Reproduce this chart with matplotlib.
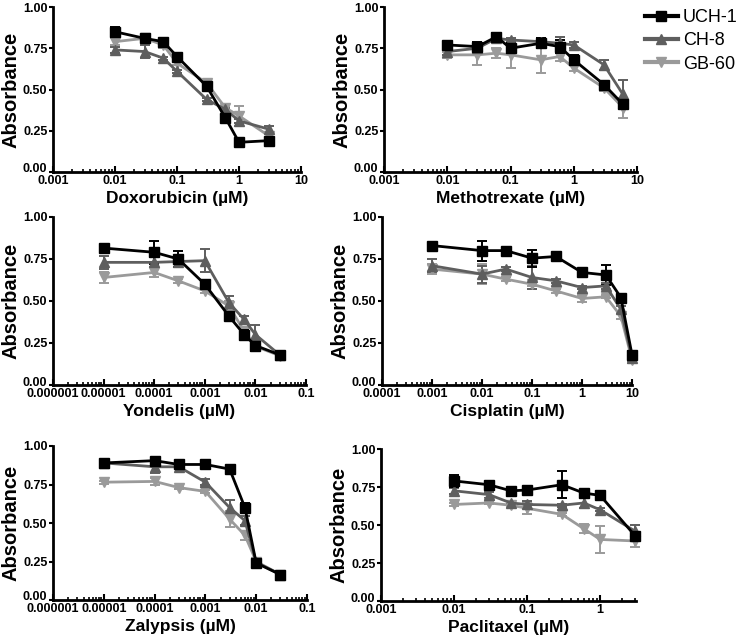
import matplotlib
matplotlib.use('Agg')

import numpy as np
import matplotlib.pyplot as plt
import matplotlib.transforms as mtransforms
from matplotlib.ticker import FixedLocator, LogLocator, NullFormatter
from matplotlib.lines import Line2D

plt.rcParams['font.family'] = ['Liberation Sans', 'DejaVu Sans']

lines_names = ['UCH-1', 'CH-8', 'GB-60']
colors = ['#000000', '#5e5e5e', '#9a9a9a']
markers = ['s', '^', 'v']

# Doxorubicin
dox_x = [0.01, 0.03, 0.06, 0.1, 0.3, 0.6, 1, 3]
dox_y = [[0.85, 0.81, 0.79, 0.70, 0.52, 0.33, 0.18, 0.19],
         [0.74, 0.73, 0.69, 0.61, 0.44, 0.38, 0.31, 0.26],
         [0.79, 0.81, 0.77, 0.66, 0.54, 0.39, 0.34, 0.22]]
dox_err = [[0.03, 0.01, 0.01, 0.01, 0.01, 0.01, 0.02, 0.01],
           [0.02, 0.04, 0.01, 0.01, 0.01, 0.01, 0.01, 0.02],
           [0.02, 0.02, 0.02, 0.01, 0.02, 0.01, 0.06, 0.02]]

# Methotrexate
mtx_x = [0.01, 0.03, 0.06, 0.1, 0.3, 0.6, 1, 3, 6]
mtx_y = [[0.77, 0.76, 0.82, 0.75, 0.78, 0.76, 0.68, 0.53, 0.41],
         [0.73, 0.75, 0.81, 0.80, 0.79, 0.78, 0.77, 0.65, 0.47],
         [0.71, 0.71, 0.72, 0.71, 0.68, 0.70, 0.63, 0.51, 0.39]]
mtx_err = [[0.02, 0.03, 0.02, 0.03, 0.03, 0.04, 0.03, 0.02, 0.02],
           [0.02, 0.02, 0.02, 0.01, 0.02, 0.04, 0.02, 0.03, 0.09],
           [0.02, 0.06, 0.03, 0.08, 0.08, 0.03, 0.02, 0.02, 0.06]]

# Yondelis
yon_x = [1e-5, 1e-4, 3e-4, 1e-3, 3e-3, 6e-3, 1e-2, 3e-2]
yon_y = [[0.815, 0.79, 0.75, 0.60, 0.41, 0.30, 0.235, 0.18],
         [0.73, 0.73, 0.735, 0.74, 0.49, 0.39, 0.30, 0.18],
         [0.64, 0.67, 0.62, 0.56, 0.47, 0.32, 0.23, 0.175]]
yon_err = [[0.01, 0.07, 0.05, 0.01, 0.02, 0.03, 0.03, 0.01],
           [0.04, 0.03, 0.03, 0.07, 0.04, 0.02, 0.06, 0.01],
           [0.03, 0.03, 0.01, 0.01, 0.03, 0.02, 0.03, 0.01]]

# Cisplatin
cis_x = [0.001, 0.01, 0.03, 0.1, 0.3, 1, 3, 6, 10]
cis_y = [[0.83, 0.80, 0.80, 0.755, 0.765, 0.67, 0.655, 0.52, 0.18],
         [0.71, 0.66, 0.69, 0.64, 0.62, 0.58, 0.59, 0.45, 0.16],
         [0.69, 0.66, 0.63, 0.60, 0.56, 0.515, 0.525, 0.41, 0.15]]
cis_err = [[0.01, 0.06, 0.01, 0.05, 0.02, 0.02, 0.06, 0.01, 0.02],
           [0.04, 0.05, 0.01, 0.07, 0.01, 0.01, 0.02, 0.02, 0.02],
           [0.03, 0.06, 0.01, 0.01, 0.01, 0.02, 0.01, 0.02, 0.02]]

# Zalypsis
zal_x = [1e-5, 1e-4, 3e-4, 1e-3, 3e-3, 6e-3, 1e-2, 3e-2]
zal_y = [[0.89, 0.905, 0.88, 0.88, 0.85, 0.60, 0.24, 0.165],
         [0.89, 0.865, 0.865, 0.765, 0.60, 0.515, 0.245, 0.165],
         [0.765, 0.77, 0.73, 0.705, 0.525, 0.42, 0.25, 0.165]]
zal_err = [[0.01, 0.02, 0.01, 0.02, 0.02, 0.03, 0.02, 0.01],
           [0.01, 0.04, 0.01, 0.02, 0.05, 0.03, 0.02, 0.01],
           [0.01, 0.02, 0.01, 0.01, 0.05, 0.03, 0.02, 0.01]]

# Paclitaxel
pac_x = [0.01, 0.03, 0.06, 0.1, 0.3, 0.6, 1, 3]
pac_y = [[0.79, 0.765, 0.725, 0.73, 0.765, 0.71, 0.695, 0.43],
         [0.725, 0.70, 0.645, 0.635, 0.63, 0.645, 0.60, 0.46],
         [0.635, 0.645, 0.63, 0.61, 0.57, 0.475, 0.405, 0.395]]
pac_err = [[0.04, 0.01, 0.02, 0.01, 0.09, 0.01, 0.01, 0.02],
           [0.02, 0.02, 0.01, 0.02, 0.01, 0.03, 0.01, 0.04],
           [0.01, 0.01, 0.01, 0.04, 0.01, 0.03, 0.09, 0.04]]

ticks_a = [0.001, 0.01, 0.1, 1, 10]
labels_a = ['0.001', '0.01', '0.1', '1', '10']
ticks_b = [1e-6, 1e-5, 1e-4, 1e-3, 1e-2, 1e-1]
labels_b = ['0.000001', '0.00001', '0.0001', '0.001', '0.01', '0.1']
ticks_c = [1e-4, 1e-3, 1e-2, 1e-1, 1, 10]
labels_c = ['0.0001', '0.001', '0.01', '0.1', '1', '10']
ticks_d = [0.001, 0.01, 0.1, 1]
labels_d = ['0.001', '0.01', '0.1', '1']

y_ticks = [0, 0.25, 0.5, 0.75, 1.0]
y_labels = ['0.00', '0.25', '0.50', '0.75', '1.00']

W, H = 742, 637
fig = plt.figure(figsize=(W / 100, H / 100), dpi=100)

# (name, x, y, err, xlim, ticks, labels, pixel box left, right, top, bottom)
panels = [
    ('Doxorubicin', dox_x, dox_y, dox_err, (1e-3, 10), ticks_a, labels_a, (53, 301, 7, 172)),
    ('Methotrexate', mtx_x, mtx_y, mtx_err, (1e-3, 10), ticks_a, labels_a, (384, 637, 7, 172)),
    ('Yondelis', yon_x, yon_y, yon_err, (1e-6, 0.1), ticks_b, labels_b, (53, 306, 217, 385)),
    ('Cisplatin', cis_x, cis_y, cis_err, (1e-4, 10), ticks_c, labels_c, (382, 632, 217, 385)),
    ('Zalypsis', zal_x, zal_y, zal_err, (1e-6, 0.1), ticks_b, labels_b, (53, 307, 446, 600)),
    ('Paclitaxel', pac_x, pac_y, pac_err, (1e-3, 3.1), ticks_d, labels_d, (381, 636, 449, 601)),
]

# nudge the "0.00" label up a little, it sits on the corner as in the original
nudge = mtransforms.ScaledTranslation(0, 4 / 100, fig.dpi_scale_trans)

for name, x, ys, errs, xlim, ticks, labels, box in panels:
    l, r, t, b = box
    ax = fig.add_axes([l / W, 1 - b / H, (r - l) / W, (b - t) / H])
    for i in range(3):
        ax.errorbar(x, ys[i], yerr=errs[i], color=colors[i], marker=markers[i],
                    markersize=6.5, lw=2, elinewidth=1.4, capsize=3.5, capthick=1.4,
                    clip_on=False, zorder=3 - i * 0.1)
    ax.set_xscale('log')
    ax.set_xlim(*xlim)
    ax.set_ylim(0, 1)
    ax.xaxis.set_major_locator(FixedLocator(ticks))
    ax.set_xticklabels(labels)
    ax.xaxis.set_minor_locator(LogLocator(base=10, subs=np.arange(2, 10)))
    ax.xaxis.set_minor_formatter(NullFormatter())
    ax.set_yticks(y_ticks)
    ax.set_yticklabels(y_labels)
    for s in ['top', 'right']:
        ax.spines[s].set_visible(False)
    for s in ['left', 'bottom']:
        ax.spines[s].set_linewidth(2)
    ax.tick_params(axis='x', which='major', direction='in', length=4, width=1.5,
                   labelsize=9, pad=2)
    ax.tick_params(axis='x', which='minor', direction='in', length=2.5, width=1.2)
    ax.tick_params(axis='y', direction='out', length=3, width=1.5, labelsize=9, pad=1)
    for lab in ax.get_xticklabels() + ax.get_yticklabels():
        lab.set_fontweight('bold')
    y0 = ax.get_yticklabels()[0]
    y0.set_transform(y0.get_transform() + nudge)
    ax.set_xlabel(name + ' (µM)', fontsize=12.5, fontweight='bold', labelpad=3)
    ax.set_ylabel('Absorbance', fontsize=14.5, fontweight='bold', labelpad=2)

handles = [Line2D([], [], color=colors[i], marker=markers[i], markersize=7, lw=3)
           for i in range(3)]
fig.legend(handles, lines_names, loc='upper left', bbox_to_anchor=(636 / W, 1 - 0 / H),
           frameon=False, fontsize=13, handlelength=1.8, handletextpad=0.3,
           labelspacing=0.35, borderpad=0)

fig.savefig('out.png', dpi=100)
